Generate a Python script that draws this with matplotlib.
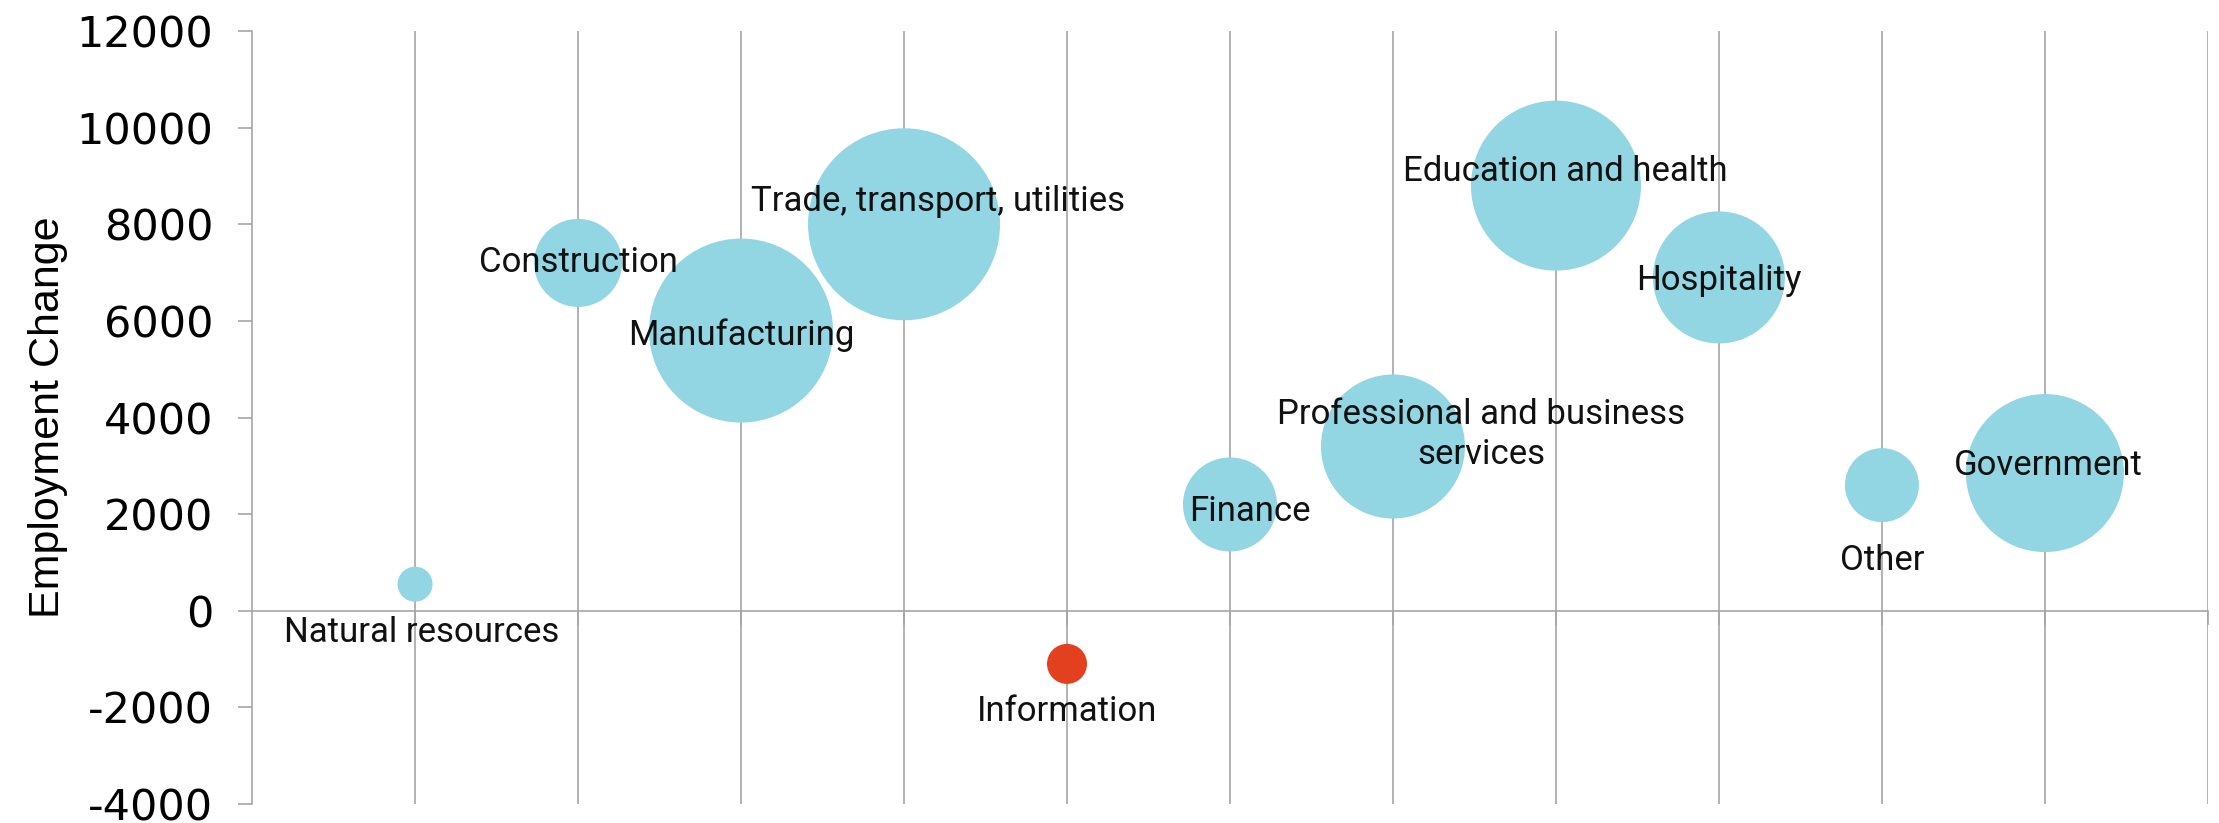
import matplotlib
matplotlib.use('Agg')
import matplotlib.pyplot as plt

plt.rcParams['axes.unicode_minus'] = False

# sectors, employment change and bubble size (relative employment level)
sectors = ['Natural resources', 'Construction', 'Manufacturing',
           'Trade, transport, utilities', 'Information', 'Finance',
           'Professional and business\nservices', 'Education and health',
           'Hospitality', 'Other', 'Government']
positions = [1, 2, 3, 4, 5, 6, 7, 8, 9, 10, 11]
emp_change = [550, 7200, 5800, 8000, -1100, 2200, 3400, 8800, 6900, 2600, 2850]
bubble_size = [306, 1936, 8464, 9216, 400, 2209, 5184, 7225, 4356, 1369, 6241]

# where each label sits (x, y in data units)
label_x = [1.04, 2.0, 3.0, 4.21, 5.0, 6.12, 7.54, 8.06, 9.0, 10.0, 11.02]
label_y = [-440, 7200, 5700, 8470, -2080, 2050, 3650, 9100, 6830, 1030, 3000]

blue = '#92D5E3'
red = '#E2401F'
grid_col = '#A6A6A6'

dpi = 100
fig = plt.figure(figsize=(22.19, 8.23), dpi=dpi)
ax = fig.add_axes([0.1136, 0.0231, 0.995 - 0.1136, 0.9623 - 0.0231])

# bubble area proportional to size; size is r^2 in pixels
k = 4 * (72.0 / dpi) ** 2
colors = [red if v < 0 else blue for v in emp_change]
ax.scatter(positions, emp_change, s=[b * k for b in bubble_size],
           c=colors, linewidths=0, zorder=3)

for i in range(len(sectors)):
    ax.text(label_x[i], label_y[i], sectors[i], ha='center', va='center',
            fontsize=25, family='Roboto', color='#111111', zorder=4,
            linespacing=1.3)

ax.set_xlim(0, 12)
ax.set_ylim(-4000, 12000)
ax.set_yticks(range(-4000, 12001, 2000))
ax.set_xticks(range(1, 13))
ax.set_xticklabels([])
ax.grid(axis='x', color=grid_col, linewidth=1.2, zorder=0)
ax.set_axisbelow(True)

for side in ['top', 'right']:
    ax.spines[side].set_visible(False)
ax.spines['bottom'].set_position(('data', 0))
ax.spines['left'].set_color(grid_col)
ax.spines['bottom'].set_color(grid_col)
ax.spines['left'].set_linewidth(1.2)
ax.spines['bottom'].set_linewidth(1.2)
ax.tick_params(axis='x', direction='out', length=10, width=1.2, color=grid_col)
ax.tick_params(axis='y', direction='out', length=10, width=1.2, color=grid_col,
               labelsize=31, pad=18)
for lab in ax.get_yticklabels():
    lab.set_family('DejaVu Sans')

ax.set_ylabel('Employment Change', fontsize=31, family='Liberation Sans',
              labelpad=6)

fig.savefig('out.png', dpi=dpi)
